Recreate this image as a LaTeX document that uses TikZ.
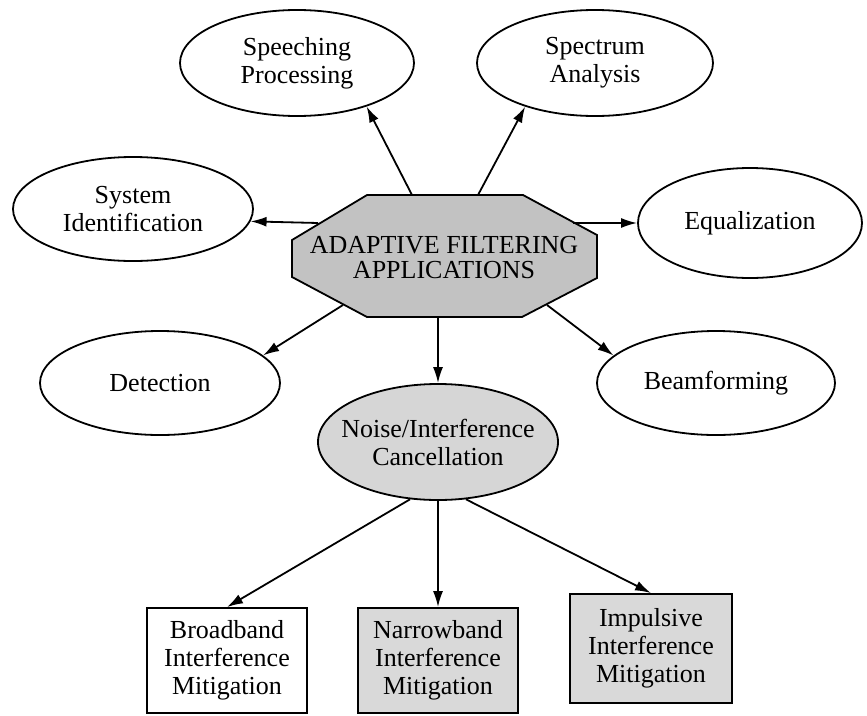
\documentclass[tikz,border=0pt]{standalone}
\usepackage{fontspec}
\setmainfont{Liberation Serif}
\usetikzlibrary{arrows.meta,shapes.geometric}

\begin{document}
\begin{tikzpicture}[x=1pt,y=-1pt,
  every node/.style={font=\fontsize{26}{28}\selectfont, align=center, inner sep=0pt},
  oval/.style={ellipse, draw, line width=1.8pt, inner xsep=-40pt, inner ysep=-8pt},
  app/.style={oval, fill=white},
  shadedoval/.style={oval, fill=gray!32},
  plainbox/.style={rectangle, draw, line width=1.8pt, fill=white},
  shadedbox/.style={rectangle, draw, line width=1.8pt, fill=gray!30},
  link/.style={line width=1.8pt, -{Latex[length=16pt,width=10pt]}}
]
\useasboundingbox (0,0) rectangle (867,715);

% central octagon
\draw[line width=1.8pt, fill=gray!48]
  (292,240) -- (367,195) -- (523,195) -- (597,235) -- (597,278)
  -- (522,317) -- (367,317) -- (292,277) -- cycle;
\node (adf) at (444,258) {ADAPTIVE FILTERING\\[-3pt]APPLICATIONS};

% points on the octagon where the connectors leave
\coordinate (o-sp) at (412,195);
\coordinate (o-sa) at (478,195);
\coordinate (o-l)  at (318,223);
\coordinate (o-r)  at (573,223);
\coordinate (o-d)  at (343,305);
\coordinate (o-b)  at (547,305);
\coordinate (o-n)  at (438,317);

% application ovals
\node[app, minimum width=234pt, minimum height=106pt] (sp) at (297,63) {Speeching\\Processing};
\node[app, minimum width=236pt, minimum height=106pt] (sa) at (595,63) {Spectrum\\Analysis};
\node[app, minimum width=240pt, minimum height=104pt] (si) at (133,209) {System\\Identification};
\node[app, minimum width=224pt, minimum height=110pt] (eq) at (750,223) {Equalization};
\node[app, minimum width=240pt, minimum height=104pt] (det) at (160,383) {Detection};
\node[app, minimum width=238pt, minimum height=104pt] (bf) at (716,383) {Beamforming};
\node[shadedoval, minimum width=240pt, minimum height=116pt] (noise) at (438,442) {Noise/Interference\\Cancellation};

% mitigation boxes
\node[plainbox, minimum width=160pt, minimum height=105pt] (bb) at (227,660.5) {Broadband\\Interference\\Mitigation};
\node[shadedbox, minimum width=160pt, minimum height=105pt] (nb) at (438,660.5) {Narrowband\\Interference\\Mitigation};
\node[shadedbox, minimum width=162pt, minimum height=109pt] (imp) at (651,648.5) {Impulsive\\Interference\\Mitigation};

% connectors
\draw[link] (o-sp) -- (sp.-32);
\draw[link] (o-sa) -- (sa.-148);
\draw[link] (o-l) -- (si.-6);
\draw[link] (o-r) -- (eq.west);
\draw[link] (o-d) -- (det.15);
\draw[link] (o-b) -- (bf.165);
\draw[link] (o-n) -- (noise.north);
\draw[link] (noise.-116) -- (bb.north);
\draw[link] (noise.south) -- (nb.north);
\draw[link] (noise.-64) -- (imp.north);
\end{tikzpicture}
\end{document}
